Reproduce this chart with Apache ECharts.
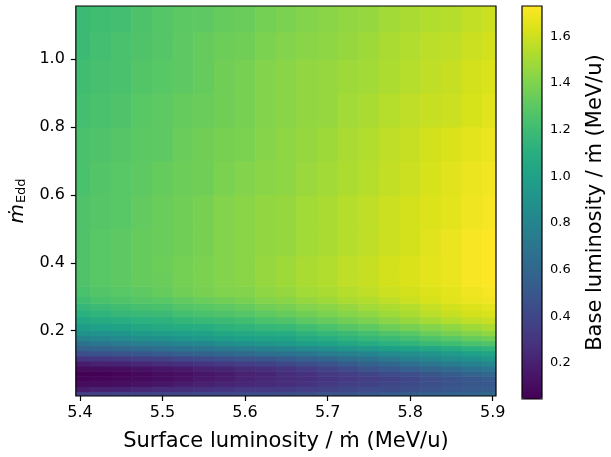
<!DOCTYPE html>
<html>
<head>
<meta charset="utf-8">
<script src="https://cdn.jsdelivr.net/npm/echarts@6/dist/echarts.min.js"></script>
<style>
  html, body { margin: 0; padding: 0; background: #fff; }
  #main { width: 611px; height: 457px; }
</style>
</head>
<body>
<div id="main"></div>
<script>
// x columns (surface luminosity / mdot, MeV/u), cell centres
var xCenters = [5.400, 5.425, 5.450, 5.475, 5.500, 5.525, 5.550, 5.575, 5.600, 5.625, 5.650,
                5.675, 5.700, 5.725, 5.750, 5.775, 5.800, 5.825, 5.850, 5.875, 5.900];
var xHalf = 0.0125;
// row edges in mdot_Edd (bottom to top)
var yEdges = [0.0075, 0.02, 0.035, 0.05, 0.065, 0.08, 0.095, 0.11, 0.125, 0.14, 0.155, 0.17, 0.185, 0.20,
              0.22, 0.24, 0.26, 0.28, 0.30, 0.33, 0.37, 0.42, 0.50, 0.60, 0.70, 0.80, 0.90, 1.00, 1.08, 1.157];
// base luminosity / mdot (MeV/u), one row per band, bottom to top
var baseLum = [
  [0.35,0.36,0.37,0.37,0.38,0.39,0.40,0.41,0.42,0.42,0.43,0.45,0.47,0.48,0.50,0.52,0.53,0.55,0.57,0.58,0.60],
  [0.18,0.20,0.21,0.23,0.25,0.26,0.28,0.30,0.32,0.32,0.33,0.35,0.37,0.40,0.42,0.43,0.45,0.48,0.50,0.52,0.53],
  [0.10,0.10,0.11,0.13,0.15,0.18,0.20,0.22,0.23,0.24,0.26,0.29,0.32,0.35,0.37,0.40,0.42,0.45,0.47,0.49,0.50],
  [0.06,0.07,0.08,0.09,0.11,0.13,0.16,0.18,0.21,0.23,0.25,0.27,0.30,0.32,0.35,0.37,0.40,0.44,0.47,0.50,0.52],
  [0.05,0.05,0.06,0.08,0.10,0.12,0.15,0.17,0.20,0.22,0.25,0.28,0.32,0.35,0.38,0.42,0.45,0.49,0.53,0.57,0.60],
  [0.10,0.10,0.11,0.13,0.15,0.17,0.20,0.22,0.25,0.27,0.30,0.34,0.38,0.42,0.47,0.51,0.55,0.59,0.63,0.67,0.70],
  [0.18,0.20,0.21,0.23,0.25,0.27,0.30,0.32,0.35,0.37,0.40,0.44,0.48,0.52,0.57,0.61,0.65,0.70,0.74,0.78,0.82],
  [0.30,0.31,0.33,0.35,0.37,0.40,0.42,0.45,0.47,0.49,0.52,0.56,0.60,0.64,0.68,0.72,0.77,0.81,0.85,0.89,0.92],
  [0.45,0.46,0.48,0.50,0.52,0.55,0.57,0.60,0.62,0.65,0.67,0.70,0.74,0.77,0.80,0.84,0.87,0.91,0.95,0.99,1.02],
  [0.57,0.58,0.60,0.62,0.65,0.67,0.70,0.72,0.75,0.77,0.80,0.84,0.87,0.91,0.94,0.98,1.01,1.04,1.07,1.11,1.14],
  [0.67,0.70,0.72,0.75,0.77,0.80,0.82,0.86,0.89,0.92,0.94,0.98,1.01,1.04,1.07,1.11,1.14,1.18,1.21,1.24,1.26],
  [0.79,0.82,0.84,0.87,0.89,0.92,0.94,0.97,0.99,1.01,1.02,1.06,1.09,1.13,1.16,1.19,1.22,1.26,1.29,1.33,1.36],
  [0.89,0.90,0.92,0.95,0.97,0.99,1.01,1.04,1.06,1.08,1.09,1.13,1.16,1.19,1.22,1.26,1.29,1.34,1.38,1.41,1.44],
  [0.97,0.99,1.01,1.04,1.06,1.08,1.09,1.12,1.14,1.16,1.17,1.21,1.24,1.28,1.31,1.35,1.38,1.41,1.44,1.48,1.51],
  [1.04,1.07,1.09,1.11,1.12,1.15,1.17,1.19,1.21,1.24,1.26,1.30,1.33,1.36,1.39,1.43,1.46,1.50,1.53,1.56,1.58],
  [1.11,1.14,1.16,1.18,1.19,1.22,1.24,1.26,1.28,1.31,1.33,1.36,1.39,1.42,1.44,1.48,1.51,1.55,1.58,1.61,1.63],
  [1.16,1.19,1.21,1.23,1.24,1.27,1.29,1.31,1.33,1.36,1.38,1.41,1.43,1.46,1.49,1.52,1.54,1.58,1.61,1.64,1.66],
  [1.21,1.24,1.26,1.28,1.29,1.32,1.34,1.36,1.38,1.41,1.43,1.46,1.48,1.51,1.53,1.56,1.59,1.62,1.65,1.68,1.70],
  [1.24,1.27,1.29,1.31,1.33,1.36,1.38,1.40,1.41,1.44,1.46,1.49,1.51,1.54,1.56,1.59,1.61,1.64,1.66,1.69,1.71],
  [1.26,1.29,1.31,1.33,1.34,1.37,1.39,1.41,1.43,1.46,1.48,1.51,1.53,1.56,1.58,1.61,1.63,1.66,1.68,1.71,1.73],
  [1.26,1.29,1.31,1.33,1.35,1.37,1.39,1.41,1.43,1.46,1.48,1.51,1.53,1.56,1.58,1.61,1.63,1.66,1.68,1.71,1.73],
  [1.26,1.29,1.31,1.33,1.34,1.36,1.38,1.41,1.43,1.45,1.46,1.49,1.51,1.54,1.56,1.59,1.61,1.65,1.68,1.71,1.73],
  [1.26,1.28,1.29,1.32,1.34,1.36,1.38,1.41,1.43,1.45,1.46,1.49,1.51,1.54,1.56,1.59,1.61,1.64,1.66,1.69,1.71],
  [1.24,1.27,1.29,1.31,1.33,1.35,1.36,1.39,1.41,1.43,1.44,1.47,1.49,1.52,1.54,1.57,1.59,1.62,1.65,1.68,1.70],
  [1.24,1.26,1.28,1.30,1.31,1.34,1.36,1.38,1.39,1.42,1.44,1.46,1.48,1.51,1.53,1.56,1.58,1.61,1.63,1.66,1.68],
  [1.22,1.24,1.26,1.29,1.31,1.33,1.34,1.36,1.38,1.41,1.43,1.45,1.46,1.49,1.51,1.54,1.56,1.58,1.59,1.62,1.65],
  [1.21,1.23,1.24,1.27,1.29,1.31,1.33,1.36,1.38,1.41,1.43,1.45,1.46,1.48,1.49,1.52,1.54,1.56,1.58,1.61,1.63],
  [1.19,1.22,1.24,1.26,1.28,1.31,1.33,1.35,1.36,1.39,1.41,1.43,1.44,1.46,1.48,1.51,1.53,1.55,1.56,1.59,1.61],
  [1.19,1.21,1.22,1.25,1.28,1.30,1.31,1.33,1.34,1.37,1.39,1.41,1.43,1.45,1.46,1.49,1.51,1.53,1.54,1.57,1.59]
];
// tick labels
var xTicks = [5.4, 5.5, 5.6, 5.7, 5.8, 5.9];
var yTicks = [0.2, 0.4, 0.6, 0.8, 1.0];
var cbTicks = [0.2, 0.4, 0.6, 0.8, 1.0, 1.2, 1.4, 1.6];
var cbMin = 0.045, cbMax = 1.73;

var viridis = ['#440154', '#481668', '#472d7b', '#424086', '#3b528b', '#33638d', '#2c728e', '#26828e',
               '#21918c', '#1fa088', '#28ae80', '#3fbc73', '#5ec962', '#84d44b', '#addc30', '#d8e219', '#fde725'];

var font = 'DejaVu Sans';

// build cells [x0, x1, y0, y1, value]
var cells = [];
for (var r = 0; r < baseLum.length; r++) {
  for (var c = 0; c < xCenters.length; c++) {
    cells.push([xCenters[c] - xHalf, xCenters[c] + xHalf, yEdges[r], yEdges[r + 1], baseLum[r][c]]);
  }
}

function renderCell(params, api) {
  var p0 = api.coord([api.value(0), api.value(3)]);
  var p1 = api.coord([api.value(1), api.value(2)]);
  var shape = echarts.graphic.clipRectByRect({
    x: p0[0] - 0.3, y: p0[1] - 0.3,
    width: p1[0] - p0[0] + 0.6, height: p1[1] - p0[1] + 0.6
  }, {
    x: params.coordSys.x, y: params.coordSys.y,
    width: params.coordSys.width, height: params.coordSys.height
  });
  if (!shape) return;
  return { type: 'rect', shape: shape, style: { fill: api.visual('color') } };
}

var myChart = echarts.init(document.getElementById('main'), null, { renderer: 'canvas' });

var labelStyle = { color: '#000', fontFamily: font, fontSize: 16 };
var tickStyle = { color: '#000', width: 1.2 };

var option = {
  animation: false,
  backgroundColor: '#fff',
  grid: [
    { left: 75, top: 6, width: 421, height: 392, show: true, z: 5,
      borderColor: '#000', borderWidth: 1.2, backgroundColor: 'transparent' },
    { left: 522, top: 6, width: 20, height: 393, show: true, z: 10,
      borderColor: '#000', borderWidth: 1.2, backgroundColor: 'transparent' }
  ],
  xAxis: [
    { type: 'value', gridIndex: 0, min: 5.395, max: 5.904,
      name: 'Surface luminosity / ṁ (MeV/u)', nameLocation: 'middle', nameGap: 35,
      nameTextStyle: { color: '#000', fontFamily: font, fontSize: 21 },
      axisLine: { show: false },
      axisTick: { show: true, length: 5, lineStyle: tickStyle, customValues: xTicks },
      axisLabel: Object.assign({ margin: 9, customValues: xTicks,
        formatter: function (v) { return v.toFixed(1); } }, labelStyle),
      splitLine: { show: false } },
    { type: 'value', gridIndex: 1, min: 0, max: 1, show: false }
  ],
  yAxis: [
    { type: 'value', gridIndex: 0, min: 0.0075, max: 1.157,
      name: '{m|ṁ}{s|Edd}', nameLocation: 'middle', nameGap: 46, nameRotate: 90,
      nameTextStyle: { color: '#000', fontFamily: font, fontSize: 19,
        rich: {
          m: { fontFamily: font, fontSize: 20, fontStyle: 'italic', color: '#000' },
          s: { fontFamily: font, fontSize: 13, color: '#000', padding: [8, 0, 0, 1] }
        } },
      axisLine: { show: false },
      axisTick: { show: true, length: 5, lineStyle: tickStyle, customValues: yTicks },
      axisLabel: Object.assign({ margin: 11, customValues: yTicks,
        formatter: function (v) { return v.toFixed(1); } }, labelStyle),
      splitLine: { show: false } },
    { type: 'value', gridIndex: 1, min: cbMin, max: cbMax, position: 'right',
      name: 'Base luminosity / ṁ (MeV/u)', nameLocation: 'middle', nameGap: 43, nameRotate: 90,
      nameTextStyle: { color: '#000', fontFamily: font, fontSize: 21 },
      axisLine: { show: false },
      axisTick: { show: true, length: 5, lineStyle: tickStyle, customValues: cbTicks },
      axisLabel: Object.assign({ margin: 8, customValues: cbTicks,
        formatter: function (v) { return v.toFixed(1); } }, labelStyle, { fontSize: 13 }),
      splitLine: { show: false } }
  ],
  visualMap: {
    type: 'continuous',
    min: cbMin, max: cbMax,
    dimension: 4,
    seriesIndex: 0,
    calculable: false,
    orient: 'vertical',
    left: 522, top: 6,
    itemWidth: 20, itemHeight: 393,
    padding: 0,
    text: null,
    z: 1,
    inRange: { color: viridis }
  },
  series: [
    { type: 'custom', xAxisIndex: 0, yAxisIndex: 0, renderItem: renderCell,
      data: cells, encode: { x: [0, 1], y: [2, 3] }, silent: true }
  ]
};

myChart.setOption(option);
</script>
</body>
</html>
